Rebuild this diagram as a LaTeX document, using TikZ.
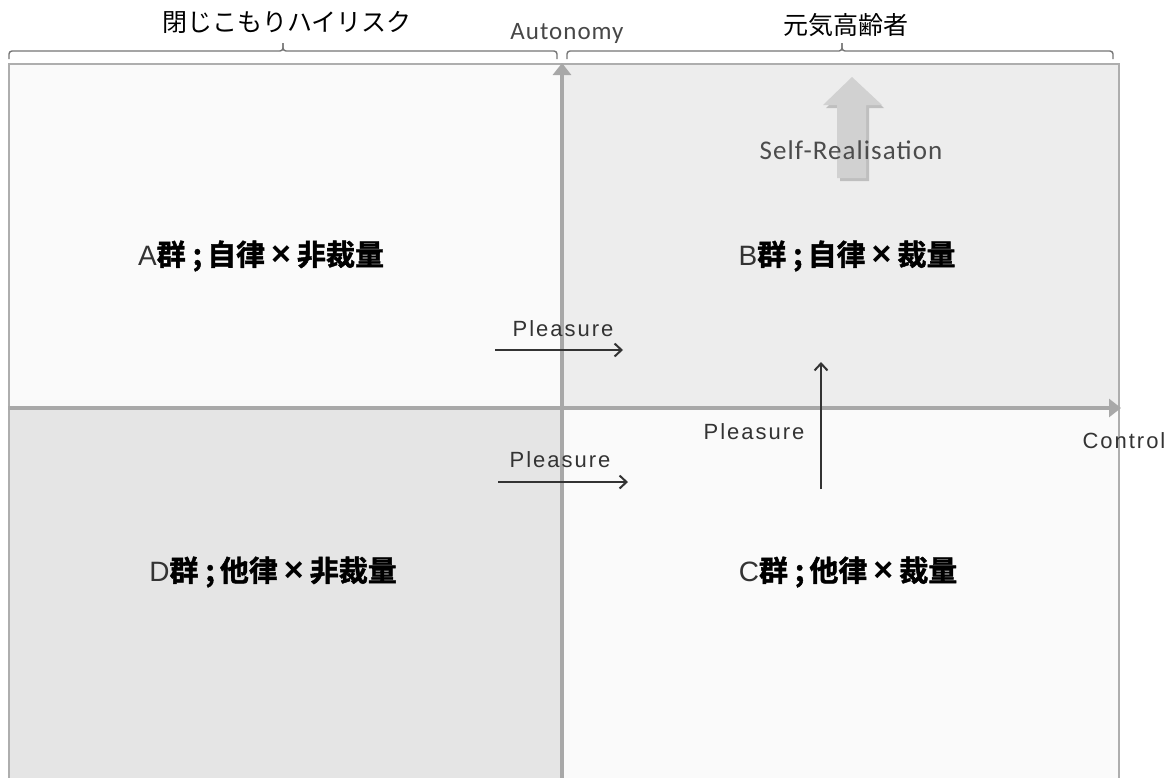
\documentclass[tikz,border=0pt]{standalone}
\usepackage{fontspec}
\setmainfont{Liberation Sans}
\newfontfamily\cjk{Noto Sans CJK JP}
\newfontfamily\cjkb[FakeBold=1.5]{Noto Sans CJK JP Bold}
\newfontfamily\carl[LetterSpace=4]{Carlito}
\newfontfamily\lsp[LetterSpace=9]{Liberation Sans}
\usetikzlibrary{arrows.meta}
\definecolor{axisgray}{HTML}{A8A8A8}
\definecolor{bordergray}{HTML}{AEAEAE}
\definecolor{bracegray}{HTML}{767676}
\definecolor{txtdark}{HTML}{333333}
\tikzset{
  quad/.style={draw=bordergray, line width=1.6pt, anchor=north west, inner sep=0pt},
  axis/.style={draw=axisgray, line width=4.5pt, -{Triangle[width=18pt,length=12pt]}},
  brace/.style={draw=bracegray, line width=1.4pt, rounded corners=3pt},
  plarrow/.style={draw=txtdark, line width=2pt, -{Straight Barb[length=7pt,width=13pt,line width=2pt]}},
  pltext/.style={font=\lsp\fontsize{22}{26}\selectfont, text=txtdark, inner sep=0pt},
  grouplabel/.style={inner sep=0pt, text=black},
  head/.style={font=\cjk\fontsize{25}{30}\selectfont, text=black, inner sep=0pt},
  axislabel/.style={font=\carl\fontsize{25}{30}\selectfont, text=txtdark!90, inner sep=0pt}
}
\newcommand{\grpA}[1]{{\fontsize{28}{32}\selectfont\color{txtdark}#1}}
\newcommand{\grpJ}[1]{{\cjkb\fontsize{29}{34}\selectfont #1}}
\newcommand{\grpX}{\hspace{6pt}{\fontsize{34}{36}\selectfont\bfseries ×}\hspace{6pt}}
\newcommand{\grpS}{\hspace{7pt}{\cjkb\fontsize{29}{34}\selectfont ;}\hspace{5pt}}
\begin{document}
\begin{tikzpicture}[x=1pt,y=-1pt]
\clip (0,0) rectangle (1172,777);
\fill[white] (0,0) rectangle (1172,777);
% quadrants
\node[quad, fill=black!2, minimum width=554pt, minimum height=345pt] (qa) at (8,63) {};
\node[quad, fill=black!7, minimum width=556pt, minimum height=345pt] (qb) at (562,63) {};
\node[quad, fill=black!10, minimum width=554pt, minimum height=380pt] (qd) at (8,408) {};
\node[quad, fill=black!2, minimum width=556pt, minimum height=380pt] (qc) at (562,408) {};
% axes
\coordinate (ybot) at (562,790);
\coordinate (ytop) at (562,63);
\coordinate (xl) at (8,408);
\coordinate (xr) at (1121,408);
\draw[axis] (ybot) -- (ytop);
\draw[axis] (xl) -- (xr);
% braces
\coordinate (lb1) at (9,59); \coordinate (lbm) at (283,43); \coordinate (lb2) at (557,59);
\draw[brace] (lb1) |- (283,51) -- (lbm);
\draw[brace] (lbm) -- (283,51) -| (lb2);
\coordinate (rb1) at (567,59); \coordinate (rbm) at (842,43); \coordinate (rb2) at (1113,59);
\draw[brace] (rb1) |- (842,51) -- (rbm);
\draw[brace] (rbm) -- (842,51) -| (rb2);
\node[head] (hl) at (287,22) {閉じこもりハイリスク};
\node[head] (hr) at (846,25) {元気高齢者};
\node[axislabel] (auto) at (567,33) {Autonomy};
\node[font=\lsp\fontsize{22}{26}\selectfont, text=txtdark, inner sep=0pt] (ctrl) at (1124,441) {Control};
% self realisation arrow
\fill[black!25] (840,181) -- (840,108) -- (826,108) -- (854,80) -- (884,108) -- (869,108) -- (869,181) -- cycle;
\fill[black!18] (837,178) -- (837,105) -- (823,105) -- (852,77) -- (882,105) -- (866,105) -- (866,178) -- cycle;
\node[axislabel, text=black!70, font=\carl\fontsize{27}{30}\selectfont] (self) at (851,150) {Self-Realisation};
% group labels
\node[grouplabel] (la) at (261,256) {\grpA{A}\grpJ{群}\grpS\grpJ{自律}\grpX\grpJ{非裁量}};
\node[grouplabel] (lb) at (847,256) {\grpA{B}\grpJ{群}\grpS\grpJ{自律}\grpX\grpJ{裁量}};
\node[grouplabel] (ld) at (273,572) {\grpA{D}\grpJ{群}\grpS\grpJ{他律}\grpX\grpJ{非裁量}};
\node[grouplabel] (lc) at (848,572) {\grpA{C}\grpJ{群}\grpS\grpJ{他律}\grpX\grpJ{裁量}};
% pleasure arrows
\node[pltext] (p1) at (563,329) {Pleasure};
\coordinate (p1s) at (495,350); \coordinate (p1e) at (623,350);
\draw[plarrow] (p1s) -- (p1e);
\node[pltext] (p2) at (560,460) {Pleasure};
\coordinate (p2s) at (498,482); \coordinate (p2e) at (628,482);
\draw[plarrow] (p2s) -- (p2e);
\node[pltext] (p3) at (754,432) {Pleasure};
\coordinate (p3s) at (821,489); \coordinate (p3e) at (821,362);
\draw[plarrow] (p3s) -- (p3e);
\end{tikzpicture}
\end{document}
